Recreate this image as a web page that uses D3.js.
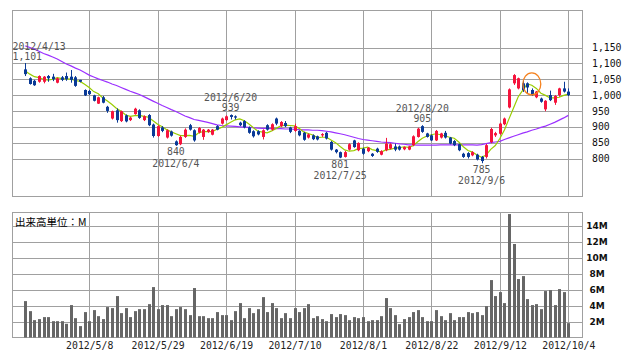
<!DOCTYPE html>
<html>
<head>
<meta charset="utf-8">
<script src="https://cdn.jsdelivr.net/npm/d3@7"></script>
<style>
body { margin: 0; background: #fff; }
svg { display: block; font-family: "DejaVu Sans Mono", monospace; }
.grid line { stroke: #a0a0a0; shape-rendering: crispEdges; }
.grid path { display: none; }
</style>
</head>
<body>
<div class="chart-container"></div>
<script>
// trading days (TSE, 2012/4/13 - 2012/10/4)
const dates = [
  "2012/4/13","2012/4/16","2012/4/17","2012/4/18","2012/4/19","2012/4/20","2012/4/23","2012/4/24","2012/4/25","2012/4/26","2012/4/27",
  "2012/5/1","2012/5/2","2012/5/7","2012/5/8","2012/5/9","2012/5/10","2012/5/11","2012/5/14","2012/5/15","2012/5/16","2012/5/17","2012/5/18",
  "2012/5/21","2012/5/22","2012/5/23","2012/5/24","2012/5/25","2012/5/28","2012/5/29","2012/5/30","2012/5/31",
  "2012/6/1","2012/6/4","2012/6/5","2012/6/6","2012/6/7","2012/6/8","2012/6/11","2012/6/12","2012/6/13","2012/6/14","2012/6/15",
  "2012/6/18","2012/6/19","2012/6/20","2012/6/21","2012/6/22","2012/6/25","2012/6/26","2012/6/27","2012/6/28","2012/6/29",
  "2012/7/2","2012/7/3","2012/7/4","2012/7/5","2012/7/6","2012/7/9","2012/7/10","2012/7/11","2012/7/12","2012/7/13",
  "2012/7/17","2012/7/18","2012/7/19","2012/7/20","2012/7/23","2012/7/24","2012/7/25","2012/7/26","2012/7/27","2012/7/30","2012/7/31",
  "2012/8/1","2012/8/2","2012/8/3","2012/8/6","2012/8/7","2012/8/8","2012/8/9","2012/8/10","2012/8/13","2012/8/14","2012/8/15","2012/8/16","2012/8/17",
  "2012/8/20","2012/8/21","2012/8/22","2012/8/23","2012/8/24","2012/8/27","2012/8/28","2012/8/29","2012/8/30","2012/8/31",
  "2012/9/3","2012/9/4","2012/9/5","2012/9/6","2012/9/7","2012/9/10","2012/9/11","2012/9/12","2012/9/13","2012/9/14",
  "2012/9/18","2012/9/19","2012/9/20","2012/9/21","2012/9/24","2012/9/25","2012/9/26","2012/9/27","2012/9/28",
  "2012/10/1","2012/10/2","2012/10/3","2012/10/4"
];

const open = [1081,1053,1045,1042,1042,1060,1058,1039,1056,1060,1058,1056,1048,1016,1013,999,973,993,963,926,
  952,918,936,921,940,952,921,937,907,871,898,866,885,854,845,868,905,889,882,868,
  884,875,902,910,921,937,933,913,918,898,886,886,868,905,891,926,902,912,898,887,
  887,881,866,873,870,873,881,852,828,820,805,828,857,826,831,823,815,831,812,826,
  831,838,838,829,828,842,868,902,879,873,857,866,881,866,855,845,815,817,810,812,
  805,805,852,873,878,908,961,1037,1021,1037,1037,1016,993,989,955,1000,976,1000,1021,1011];
const close = [1066,1035,1031,1060,1058,1053,1050,1053,1048,1050,1048,1029,1042,999,1003,982,993,976,950,949,
  921,949,917,929,957,928,933,905,871,902,887,889,872,842,868,891,891,857,896,891,
  891,891,891,926,933,931,929,905,898,881,870,876,889,891,908,910,915,902,884,902,
  873,859,876,861,860,877,863,828,820,803,820,845,836,849,815,834,808,821,823,847,
  845,828,828,836,838,870,894,884,868,857,887,879,866,847,842,826,805,805,820,797,
  792,842,893,880,910,926,1018,1063,1053,1016,1024,1000,1011,979,982,984,997,1021,1011,1000];
const high = [1101,1056,1048,1062,1060,1063,1067,1055,1060,1071,1079,1060,1048,1018,1016,1001,995,997,966,951,
  958,951,939,932,960,955,936,940,910,905,902,892,888,857,872,895,909,892,899,893,
  893,893,905,929,936,939,936,916,921,901,889,889,892,908,911,929,918,918,900,910,
  889,884,879,876,872,880,884,855,830,822,824,848,859,851,834,836,817,834,826,865,
  848,847,841,838,840,873,897,905,881,876,890,881,887,868,858,847,818,820,823,815,
  808,846,897,884,913,929,1021,1066,1055,1047,1040,1021,1013,992,984,1014,1000,1023,1042,1021];
const low = [1060,1033,1029,1039,1037,1042,1044,1037,1044,1045,1039,1026,1040,997,1000,980,972,974,944,923,
  913,915,914,918,938,925,918,902,866,868,883,863,869,840,842,865,888,853,879,859,
  881,873,889,907,919,923,923,902,895,878,866,873,860,888,888,905,899,899,880,884,
  870,856,863,858,857,868,860,825,816,801,803,825,834,823,812,820,805,818,810,823,
  829,823,825,826,826,839,866,881,866,855,855,863,863,845,839,823,802,800,807,794,
  785,800,848,868,875,905,958,1032,1018,1010,1005,997,990,976,949,981,969,995,1008,997];

// moving averages as drawn (short: 5 day, long: 25 day)
const maShort = [1076,1066,1058,1055,1050,1047,1050,1055,1052,1051,1050,1046,1043,1034,1024,1011,1004,991,981,970,
  958,949,937,933,935,936,933,930,919,908,900,891,884,878,872,872,873,870,881,885,
  885,885,892,898,906,914,922,925,919,909,897,886,883,881,887,895,903,905,904,903,
  895,884,879,874,866,867,867,858,850,838,827,823,825,831,833,836,828,825,820,827,
  829,833,834,837,835,840,853,864,871,875,878,875,871,867,864,852,837,825,820,811,
  804,811,829,841,863,890,925,959,994,1015,1035,1031,1021,1006,999,991,991,993,999,1003];
const maLong = [1155,1150,1145,1138,1131,1126,1120,1114,1106,1098,1092,1085,1079,1071,1063,1057,1051,1046,1041,1035,
  1030,1024,1018,1012,1007,1002,995,988,981,974,967,961,954,948,941,934,929,923,920,917,
  914,910,906,904,903,902,901,900,899,898,897,896,895,895,894,894,894,893,893,892,
  891,890,890,889,889,888,886,884,881,878,875,871,867,863,860,858,856,854,852,851,
  850,848,846,845,843,843,842,842,842,842,842,843,843,843,843,843,843,843,843,842,
  844,847,850,852,854,860,865,870,875,880,884,889,893,898,902,908,914,921,928,936];

// volume, millions of shares
const volume = [4.57,3.31,2.18,2.31,2.56,2.56,2.05,2.05,2.05,1.72,4.07,2.43,1.43,3.19,2.05,3.44,2.68,2.31,3.82,3.69,
  5.2,3.06,3.69,2.56,3.31,3.56,3.56,4.19,6.33,3.56,4.07,4.07,2.68,3.56,3.82,3.56,2.81,6.21,2.68,2.68,
  2.43,2.43,3.19,2.81,2.81,2.18,3.31,4.32,2.43,3.69,3.06,3.56,5.07,3.19,4.32,3.69,2.43,3.06,2.43,3.69,
  3.19,3.69,4.19,2.43,2.68,2.31,2.05,2.94,2.56,2.94,2.81,2.18,2.56,2.43,2.56,2.05,2.18,2.18,2.68,4.95,
  3.69,2.81,1.68,2.31,2.56,3.19,3.44,2.56,2.05,2.05,3.44,2.68,2.18,3.06,2.18,2.56,2.56,3.19,3.06,3.19,
  2.81,3.94,7.21,5.2,5.7,4.32,15.5,11.74,7.34,7.71,4.82,4.07,4.19,3.56,5.83,5.95,4.07,6.08,5.7,1.8];

const priceTicks = [800, 850, 900, 950, 1000, 1050, 1100, 1150];
const volumeTicks = [2, 4, 6, 8, 10, 12, 14];
const dateTicks = ["2012/5/8","2012/5/29","2012/6/19","2012/7/10","2012/8/1","2012/8/22","2012/9/12","2012/10/4"];

// marked highs and lows
const highMarks = ["2012/4/13", "2012/6/20", "2012/8/20"];
const lowMarks = ["2012/6/4", "2012/7/25", "2012/9/6"];
const circledDate = "2012/9/24";
const circledPrice = 1035;

const totalWidth = 638;
const totalHeight = 362;
const left = 12.5, right = 582.5;
const priceTop = 10.5, priceBottom = 196.5;
const volTop = 212.5, volBottom = 337.5;

const upColor = "#f5143c";
const downColor = "#0a3a96";
const mono = "'DejaVu Sans Mono', monospace";

const svg = d3.select(".chart-container")
  .append("svg")
  .attr("width", totalWidth)
  .attr("height", totalHeight);

const x = d3.scalePoint().domain(dates).range([25.3, 568.3]);
const y = d3.scaleLinear().domain([800, 1150]).range([158.5, 47.5]);
const yVol = d3.scaleLinear().domain([0, 14]).range([volBottom, 226]);
const px = d => Math.round(x(d));

// grids
svg.append("g").attr("class", "grid")
  .attr("transform", `translate(${left},0)`)
  .call(d3.axisLeft(y).tickValues(priceTicks).tickSize(-(right - left)).tickFormat(""));
svg.append("g").attr("class", "grid")
  .attr("transform", `translate(0,${priceBottom})`)
  .call(d3.axisBottom(x).tickValues(dateTicks).tickSize(-(priceBottom - priceTop)).tickFormat(""));
svg.append("g").attr("class", "grid")
  .attr("transform", `translate(${left},0)`)
  .call(d3.axisLeft(yVol).tickValues(volumeTicks).tickSize(-(right - left)).tickFormat(""));

const dateAxis = svg.append("g").attr("class", "grid")
  .attr("transform", `translate(0,${volBottom})`)
  .call(d3.axisBottom(x).tickValues(dateTicks).tickSize(-(volBottom - volTop)).tickPadding(5));
dateAxis.selectAll("text").attr("fill", "#222")
  .style("font-family", mono).style("font-size", "9.8px");

// frames
svg.append("rect").attr("x", left).attr("y", priceTop).attr("width", right - left).attr("height", priceBottom - priceTop)
  .attr("fill", "none").attr("stroke", "#a0a0a0").attr("shape-rendering", "crispEdges");
svg.append("rect").attr("x", left).attr("y", volTop).attr("width", right - left).attr("height", volBottom - volTop)
  .attr("fill", "none").attr("stroke", "#a0a0a0").attr("shape-rendering", "crispEdges");

// right axes
const priceAxis = svg.append("g")
  .attr("transform", `translate(${right},0)`)
  .call(d3.axisRight(y).tickValues(priceTicks).tickSize(0).tickPadding(9.5).tickFormat(d3.format(",")));
priceAxis.select(".domain").remove();
priceAxis.selectAll("text").attr("fill", "#111")
  .style("font-family", mono).style("font-size", "9.8px");

const volAxis = svg.append("g")
  .attr("transform", `translate(${right},0)`)
  .call(d3.axisRight(yVol).tickValues(volumeTicks).tickSize(0).tickFormat(d => d + "M"));
volAxis.select(".domain").remove();
volAxis.selectAll("text")
  .attr("x", 14.5).attr("text-anchor", "middle").attr("fill", "#111")
  .style("font-family", "'DejaVu Sans', sans-serif").style("font-size", "9px").style("font-weight", "bold");

// volume bars
svg.append("g").selectAll("rect")
  .data(volume)
  .enter()
  .append("rect")
  .attr("x", (v, i) => px(dates[i]) - 1)
  .attr("y", v => yVol(v))
  .attr("width", 3)
  .attr("height", v => volBottom - yVol(v))
  .attr("fill", "#666");

svg.append("text")
  .attr("x", 15).attr("y", 226)
  .style("font-family", "'Noto Sans CJK JP', sans-serif").style("font-size", "10.5px")
  .attr("fill", "#000")
  .text("出来高単位：M");

// moving averages
const ma = d3.line().x((v, i) => x(dates[i])).y(v => y(v));
svg.append("path").attr("d", ma(maLong)).attr("fill", "none").attr("stroke", "#9b30ff").attr("stroke-width", 1.2);
svg.append("path").attr("d", ma(maShort)).attr("fill", "none").attr("stroke", "#9acd00").attr("stroke-width", 1.2);

// candles
const candles = svg.append("g").selectAll("g")
  .data(dates)
  .enter()
  .append("g")
  .attr("fill", (d, i) => close[i] >= open[i] ? upColor : downColor)
  .attr("stroke", (d, i) => close[i] >= open[i] ? upColor : downColor);
candles.append("line")
  .attr("x1", d => px(d) + 0.5).attr("x2", d => px(d) + 0.5)
  .attr("y1", (d, i) => y(high[i])).attr("y2", (d, i) => y(low[i]));
candles.append("rect")
  .attr("x", d => px(d) - 1)
  .attr("y", (d, i) => y(Math.max(open[i], close[i])))
  .attr("width", 3)
  .attr("height", (d, i) => Math.max(1, Math.abs(y(open[i]) - y(close[i]))))
  .attr("stroke", "none");

// high / low labels
const label = (d, text, yy) => {
  const cx = x(d);
  const w = text.length * 5.8;
  const t = svg.append("text").attr("y", yy).attr("fill", "#555").style("font-size", "9.8px").text(text);
  if (cx - w / 2 < left) t.attr("x", left).attr("text-anchor", "start");
  else t.attr("x", cx).attr("text-anchor", "middle");
};
highMarks.forEach(d => {
  const i = dates.indexOf(d);
  label(d, d3.format(",")(high[i]), y(high[i]) - 3);
  label(d, d, y(high[i]) - 13.5);
});
lowMarks.forEach(d => {
  const i = dates.indexOf(d);
  label(d, d3.format(",")(low[i]), y(low[i]) + 9.5);
  label(d, d, y(low[i]) + 21);
});

svg.append("ellipse")
  .attr("cx", x(circledDate)).attr("cy", y(circledPrice))
  .attr("rx", 9).attr("ry", 11)
  .attr("fill", "none").attr("stroke", "#f5821f").attr("stroke-width", 1.3);
</script>
</body>
</html>
